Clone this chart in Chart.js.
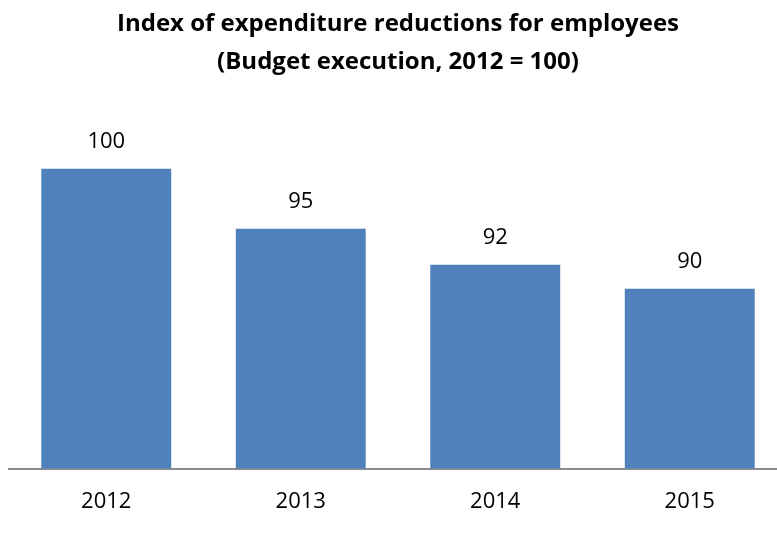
<!DOCTYPE html>
<html>
<head>
<meta charset="utf-8">
<script src="https://cdn.jsdelivr.net/npm/chart.js@4/dist/chart.umd.min.js"></script>
<style>
    html, body { margin: 0; padding: 0; background: #fff; overflow: hidden; }
    #wrap { width: 777px; height: 536px; overflow: hidden; }
</style>
</head>
<body>
<div id="wrap">
    <canvas id="indexChart" width="795" height="536"></canvas>
</div>
<script>
// Dữ liệu biểu đồ
const years = ['2012', '2013', '2014', '2015'];
const indexValues = [100, 95, 92, 90];
const titleLines = ['Index of expenditure reductions for employees', '(Budget execution, 2012 = 100)'];

// Plugin nhỏ để ghi giá trị lên trên cột
const valueLabels = {
    id: 'valueLabels',
    afterDatasetsDraw(chart) {
        const ctx = chart.ctx;
        const meta = chart.getDatasetMeta(0);
        ctx.save();
        ctx.font = '22px "Open Sans"';
        ctx.fillStyle = '#000';
        ctx.textAlign = 'center';
        ctx.textBaseline = 'middle';
        meta.data.forEach((bar, i) => {
            ctx.fillText(String(indexValues[i]), bar.x, bar.y - 27);
        });
        ctx.restore();
    }
};

const ctx = document.getElementById('indexChart').getContext('2d');
new Chart(ctx, {
    type: 'bar',
    data: {
        labels: years,
        datasets: [{
            data: indexValues,
            backgroundColor: '#4F81BD',
            borderWidth: 0,
            categoryPercentage: 1,
            barPercentage: 0.668
        }]
    },
    options: {
        responsive: false,
        animation: false,
        layout: { padding: { left: 9, right: 8, top: 0, bottom: 1 } },
        plugins: {
            legend: { display: false },
            tooltip: { enabled: false },
            title: {
                display: true,
                text: titleLines,
                color: '#000',
                font: { family: '"Open Sans"', size: 24, weight: 'bold', lineHeight: 1.6 },
                padding: { top: 5, bottom: 27 }
            }
        },
        scales: {
            y: {
                display: false,
                min: 75,
                max: 105
            },
            x: {
                grid: { display: false, drawTicks: false },
                border: { display: true, color: '#8c8c8c', width: 2 },
                ticks: {
                    color: '#000',
                    padding: 20,
                    font: { family: '"Open Sans"', size: 22 }
                }
            }
        }
    },
    plugins: [valueLabels]
});
</script>
</body>
</html>
